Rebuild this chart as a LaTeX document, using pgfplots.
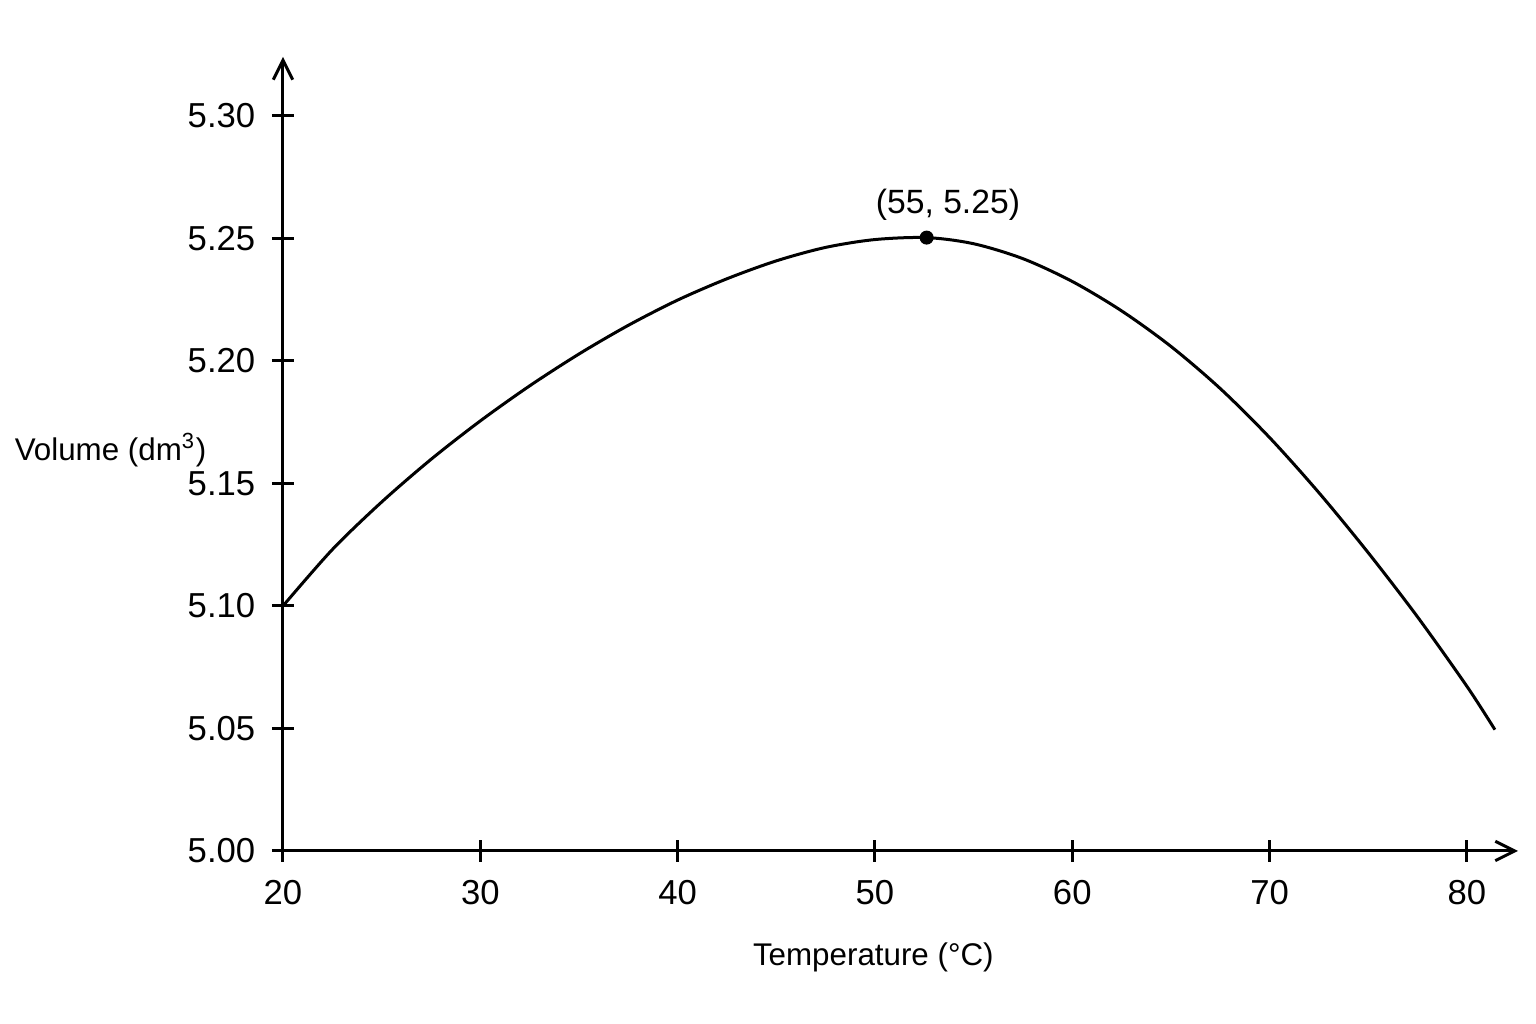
\documentclass[border=0pt]{standalone}
\usepackage{fontspec}
\setmainfont{Liberation Sans}
\usepackage{pgfplots}
\pgfplotsset{compat=1.18}
\usetikzlibrary{arrows.meta}

\begin{document}
\begin{tikzpicture}
% canvas: 1536 x 1024 px at 0.3pt per px, axis origin at px (283,851)
\useasboundingbox[fill=white] (-84.9pt,-51.9pt) rectangle (375.9pt,255.3pt);
\begin{axis}[
    scale only axis,
    width=370.5pt, height=238.2pt,
    xmin=20, xmax=82.59,
    ymin=5.0, ymax=5.324,
    axis lines=left,
    axis line style={line width=0.9pt, -{Straight Barb[length=5.8pt,width=5.8pt,line width=0.9pt]}},
    xtick={20,30,...,80},
    ytick={5.00,5.05,...,5.30},
    tick align=center,
    major tick length=6.6pt,
    every tick/.style={black, line width=0.9pt},
    tick label style={font=\fontsize{10.4}{12}\selectfont},
    /pgf/number format/assume math mode=true,
    yticklabel style={xshift=-1.5pt, /pgf/number format/.cd, fixed, fixed zerofill, precision=2},
    xticklabel style={yshift=-2pt},
    xlabel={Temperature (°C)},
    ylabel={Volume (dm\textsuperscript{3})},
    every axis x label/.style={at={(rel axis cs:0.478,0)}, anchor=center, yshift=-31.8pt, font=\fontsize{9.4}{11}\selectfont},
    every axis y label/.style={at={(rel axis cs:0,0.505)}, anchor=center, xshift=-51.75pt, font=\fontsize{9.4}{11}\selectfont},
    clip=false,
]
\addplot[black, line width=0.9pt, smooth] coordinates {
    (20.00, 5.1000)
    (22.50, 5.1230)
    (25.00, 5.1424)
    (27.50, 5.1598)
    (30.00, 5.1755)
    (32.50, 5.1898)
    (35.00, 5.2028)
    (37.50, 5.2145)
    (40.00, 5.2248)
    (42.50, 5.2335)
    (45.00, 5.2408)
    (47.50, 5.2463)
    (50.00, 5.2495)
    (52.62, 5.2503)
    (55.00, 5.2478)
    (57.50, 5.2417)
    (60.00, 5.2324)
    (62.50, 5.2204)
    (65.00, 5.2059)
    (67.50, 5.1887)
    (70.00, 5.1687)
    (72.50, 5.1462)
    (75.00, 5.1217)
    (77.50, 5.0955)
    (80.00, 5.0672)
    (81.42, 5.0495)
};
\addplot[only marks, mark=*, mark size=1.9pt, black] coordinates {(52.62, 5.2503)}
    node[pos=0, anchor=center, xshift=6.4pt, yshift=9.8pt, font=\fontsize{10.1}{12}\selectfont] {(55, 5.25)};
\end{axis}
\end{tikzpicture}
\end{document}
